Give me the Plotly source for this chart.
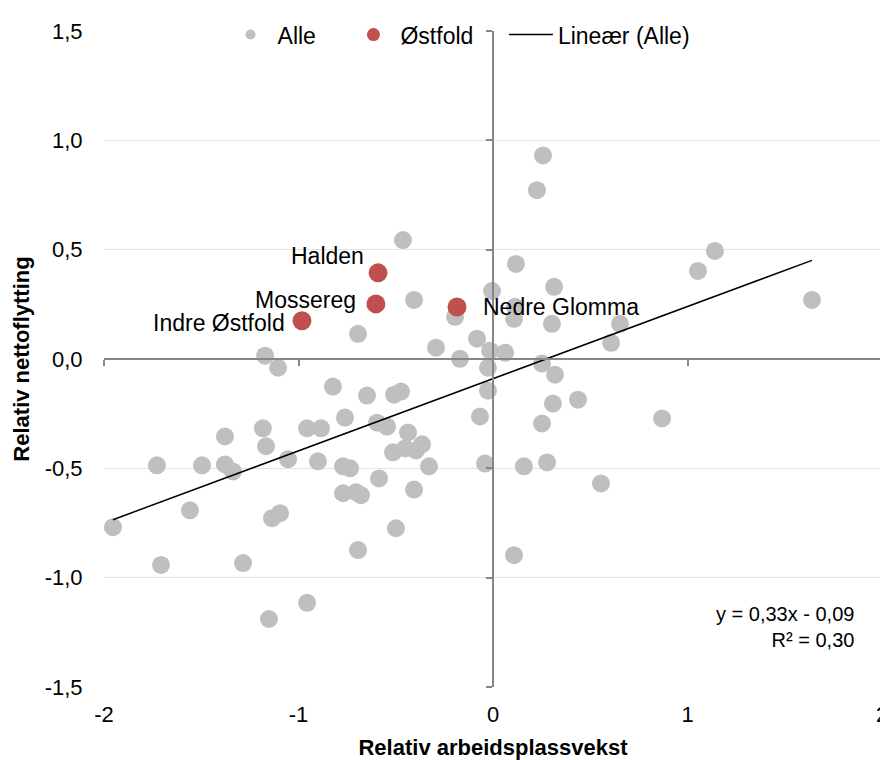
import plotly.graph_objects as go

# Alle (gray) points
alle_x = [-1.954, -1.728, -1.707, -1.558, -1.496, -1.378, -1.378, -1.337, -1.285, -1.183,
          -1.167, -1.172, -1.105, -1.136, -1.095, -1.152, -1.054, -0.956, -0.956, -0.884,
          -0.900, -0.823, -0.761, -0.771, -0.735, -0.771, -0.704, -0.679, -0.694, -0.694,
          -0.648, -0.596, -0.545, -0.586, -0.514, -0.452, -0.396, -0.365, -0.437, -0.499,
          -0.509, -0.473, -0.463, -0.406, -0.406, -0.329, -0.293, -0.195, -0.170, -0.082,
          -0.067, -0.041, -0.026, -0.026, -0.015, -0.005, 0.062, 0.108, 0.118, 0.113,
          0.108, 0.226, 0.257, 0.252, 0.252, 0.278, 0.303, 0.314, 0.308, 0.319,
          0.437, 0.159, 0.555, 0.607, 0.653, 0.869, 1.054, 1.141, 1.640]
alle_y = [-0.769, -0.486, -0.942, -0.692, -0.486, -0.354, -0.482, -0.514, -0.933, -0.317,
          -0.399, 0.015, -0.040, -0.728, -0.705, -1.189, -0.458, -1.115, -0.317, -0.317,
          -0.468, -0.126, -0.268, -0.491, -0.500, -0.614, -0.609, -0.623, -0.874, 0.115,
          -0.167, -0.291, -0.309, -0.546, -0.427, -0.409, -0.418, -0.390, -0.336, -0.774,
          -0.163, -0.149, 0.544, 0.270, -0.597, -0.491, 0.052, 0.193, 0.001, 0.093,
          -0.263, -0.478, -0.040, -0.145, 0.038, 0.311, 0.029, -0.897, 0.435, 0.239,
          0.184, 0.772, 0.931, -0.021, -0.295, -0.473, 0.161, 0.330, -0.204, -0.072,
          -0.186, -0.491, -0.569, 0.074, 0.161, -0.272, 0.403, 0.494, 0.270]

# Østfold regions (red)
ostfold_names = ["Halden", "Mossereg", "Indre Østfold", "Nedre Glomma"]
ostfold_x = [-0.591, -0.602, -0.982, -0.185]
ostfold_y = [0.394, 0.252, 0.175, 0.238]

# label placement (pixel offsets from each marker)
label_anchor = ["right", "right", "right", "left"]
label_dx = [-12, -18, -15, 24]
label_dy = [17, 4, -2, 0]

# trendline from the chart's equation
slope, intercept = 0.33, -0.09
r2 = 0.30

x_ticks = [-2, -1, 0, 1, 2]
x_labels = ["-2", "-1", "0", "1", "2"]
y_ticks = [-1.5, -1.0, -0.5, 0.0, 0.5, 1.0, 1.5]
y_labels = ["-1,5", "-1,0", "-0,5", "0,0", "0,5", "1,0", "1,5"]

GRAY = "#BFBFBF"
RED = "#C0504D"
font = "Liberation Sans, Arial, sans-serif"
pad = "\u00a0" * 4

fig = go.Figure()

fig.add_trace(go.Scatter(
    x=alle_x, y=alle_y, mode="markers", name="Alle", showlegend=False,
    marker=dict(color=GRAY, size=18),
))

fig.add_trace(go.Scatter(
    x=ostfold_x, y=ostfold_y, mode="markers", name="Østfold", showlegend=False,
    marker=dict(color=RED, size=19),
))

# legend entries (smaller symbols, as in the original legend)
fig.add_trace(go.Scatter(x=[None], y=[None], mode="markers", name="Alle" + pad,
                         marker=dict(color=GRAY, size=10)))
fig.add_trace(go.Scatter(x=[None], y=[None], mode="markers", name="Østfold" + pad,
                         marker=dict(color=RED, size=13)))

line_x = [min(alle_x), max(alle_x)]
fig.add_trace(go.Scatter(
    x=line_x, y=[slope * v + intercept for v in line_x],
    mode="lines", name="Lineær (Alle)",
    line=dict(color="#000000", width=1.5),
))

# invisible trace so the crossing axes (x2/y2) get drawn
fig.add_trace(go.Scatter(
    x=[0], y=[0], xaxis="x2", yaxis="y2", mode="markers",
    marker=dict(opacity=0), showlegend=False, hoverinfo="skip",
))

for name, x, y, anc, dx, dy in zip(ostfold_names, ostfold_x, ostfold_y,
                                    label_anchor, label_dx, label_dy):
    fig.add_annotation(x=x, y=y, text=name, showarrow=False, xanchor=anc,
                       yanchor="middle", xshift=dx, yshift=dy,
                       font=dict(size=23, color="#000000"))

eq = f"y = {slope:.2f}x - {abs(intercept):.2f}".replace(".", ",")
r2_txt = f"R² = {r2:.2f}".replace(".", ",")
fig.add_annotation(
    x=1.866, y=-1.225, xref="x", yref="y", text=eq + "<br>" + r2_txt,
    showarrow=False, xanchor="right", align="right",
    font=dict(size=20, color="#000000"),
)

# page has an 8px body margin, so the figure is a bit smaller than the window
fig.update_layout(
    width=880, height=752,
    margin=dict(l=96, r=6, t=22, b=73),
    plot_bgcolor="white", paper_bgcolor="white",
    font=dict(family=font, size=22, color="#000000"),
    showlegend=True,
    legend=dict(
        orientation="h", x=0.457, xanchor="center", y=0.993, yanchor="middle",
        bgcolor="rgba(0,0,0,0)", font=dict(size=23), itemwidth=44,
    ),
    xaxis=dict(
        range=[-2, 2], tickvals=x_ticks, ticktext=x_labels, showgrid=False,
        zeroline=False, showline=False, automargin=False, ticklabeloverflow="allow",
        ticks="outside", ticklen=8, tickcolor="rgba(0,0,0,0)",
        title=dict(text="<b>Relativ arbeidsplassvekst</b>", font=dict(size=22), standoff=15),
    ),
    yaxis=dict(
        range=[-1.5, 1.5], tickvals=y_ticks, ticktext=y_labels,
        showgrid=True, gridcolor="#DCE4F2", gridwidth=1.2, zeroline=False,
        showline=False, automargin=False,
        ticks="outside", ticklen=16, tickcolor="rgba(0,0,0,0)",
        title=dict(text="<b>Relativ nettoflytting</b>", font=dict(size=22), standoff=8),
    ),
    xaxis2=dict(
        range=[-2, 2], overlaying="x", anchor="free", position=0.5, side="bottom",
        tickvals=x_ticks, showticklabels=False, showgrid=False, zeroline=False,
        showline=True, linecolor="#868686", linewidth=1.5, automargin=False,
        ticks="outside", ticklen=6, tickcolor="#868686", tickwidth=1.5,
    ),
    yaxis2=dict(
        range=[-1.5, 1.5], overlaying="y", anchor="free", position=0.5, side="left",
        tickvals=y_ticks, showticklabels=False, showgrid=False, zeroline=False,
        showline=True, linecolor="#868686", linewidth=1.5, automargin=False,
        ticks="outside", ticklen=6, tickcolor="#868686", tickwidth=1.5,
    ),
)

fig.write_html("out.html")
